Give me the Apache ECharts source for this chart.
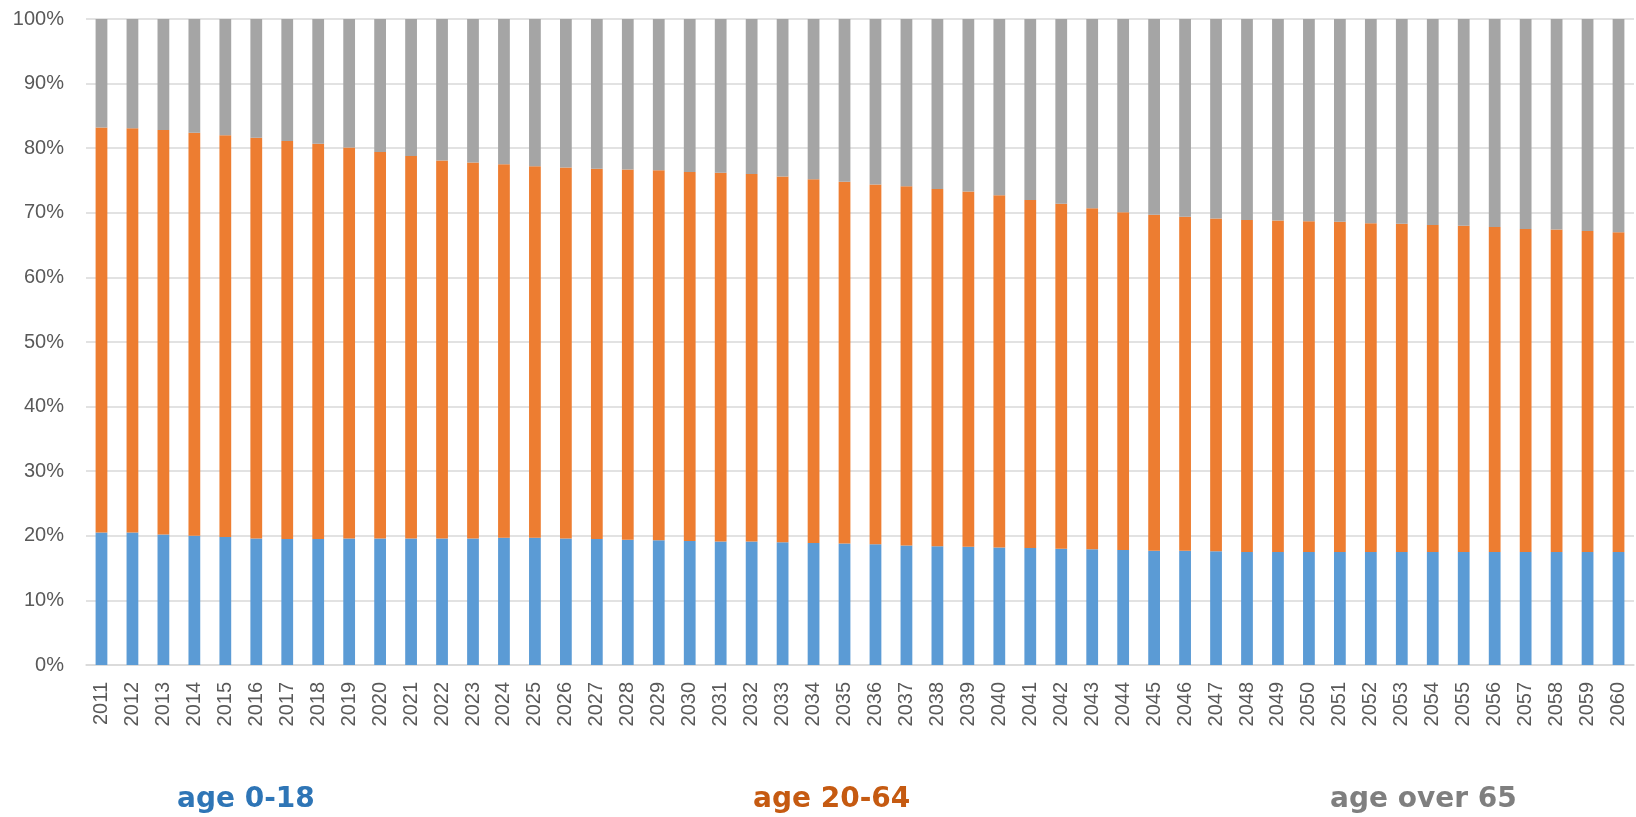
<!DOCTYPE html>
<html>
<head>
<meta charset="utf-8">
<script src="https://cdn.jsdelivr.net/npm/echarts@6/dist/echarts.min.js"></script>
<style>
html, body { margin: 0; padding: 0; background: #fff; }
#chart-container { width: 1636px; height: 817px; }
</style>
</head>
<body>
<div id="chart-container"></div>
<script>
var years = [];
for (var y = 2011; y <= 2060; y++) years.push(String(y));

// shares in %
var young = [20.5, 20.5, 20.2, 20.0, 19.8, 19.6, 19.5, 19.5, 19.6, 19.6, 19.6, 19.6, 19.6, 19.7, 19.7,
    19.6, 19.5, 19.4, 19.3, 19.2, 19.1, 19.1, 19.0, 18.9, 18.8, 18.7, 18.5, 18.4, 18.3, 18.2, 18.1, 18.0, 17.9,
    17.8, 17.7, 17.7, 17.6, 17.5, 17.5, 17.5, 17.5, 17.5, 17.5, 17.5, 17.5, 17.5, 17.5, 17.5, 17.5, 17.5];
var working = [62.7, 62.6, 62.6, 62.4, 62.2, 62.0, 61.6, 61.2, 60.5, 59.8, 59.2, 58.5, 58.2, 57.8, 57.5,
    57.4, 57.3, 57.3, 57.3, 57.1, 57.1, 56.9, 56.6, 56.3, 56.0, 55.7, 55.6, 55.3, 55.0, 54.5, 53.9, 53.4, 52.8,
    52.3, 52.0, 51.7, 51.5, 51.4, 51.3, 51.2, 51.1, 50.9, 50.8, 50.6, 50.5, 50.3, 50.0, 49.9, 49.7, 49.5];
var old = [16.8, 16.9, 17.2, 17.6, 18.0, 18.4, 18.9, 19.3, 19.9, 20.6, 21.2, 21.9, 22.2, 22.5, 22.8,
    23.0, 23.2, 23.3, 23.4, 23.7, 23.8, 24.0, 24.4, 24.8, 25.2, 25.6, 25.9, 26.3, 26.7, 27.3, 28.0, 28.6, 29.3,
    29.9, 30.3, 30.6, 30.9, 31.1, 31.2, 31.3, 31.4, 31.6, 31.7, 31.9, 32.0, 32.2, 32.5, 32.6, 32.8, 33.0];

var names = ['age 0-18', 'age 20-64', 'age over 65'];
var colors = ['#5B9BD5', '#ED7D31', '#A5A5A5'];
var labelColors = ['#2E75B6', '#C55A11', '#7F7F7F'];
var legendLeft = [167, 743, 1320];

var chart = echarts.init(document.getElementById('chart-container'));

function legendFor(i) {
    return {
        data: [names[i]],
        left: legendLeft[i],
        top: 781,
        icon: 'none',
        itemWidth: 0,
        selectedMode: false,
        textStyle: {
            color: labelColors[i],
            fontFamily: 'DejaVu Sans',
            fontWeight: 'bold',
            fontSize: 28
        }
    };
}

function barSeries(i, values) {
    return {
        name: names[i],
        type: 'bar',
        stack: 'total',
        barWidth: '38%',
        itemStyle: { color: colors[i] },
        data: values
    };
}

chart.setOption({
    animation: false,
    grid: { left: 86, right: 2, top: 19, bottom: 152 },
    legend: [legendFor(0), legendFor(1), legendFor(2)],
    xAxis: {
        type: 'category',
        data: years,
        axisTick: { show: false },
        axisLine: { lineStyle: { color: '#D9D9D9', width: 1.5 } },
        axisLabel: {
            rotate: 90,
            margin: 17,
            color: '#595959',
            fontFamily: 'Liberation Sans',
            fontSize: 20
        }
    },
    yAxis: {
        type: 'value',
        min: 0,
        max: 100,
        interval: 10,
        axisLine: { show: false },
        axisTick: { show: false },
        splitLine: { lineStyle: { color: '#D9D9D9', width: 1.5 } },
        axisLabel: {
            formatter: '{value}%',
            margin: 22,
            color: '#595959',
            fontFamily: 'Liberation Sans',
            fontSize: 20
        }
    },
    series: [barSeries(0, young), barSeries(1, working), barSeries(2, old)]
});
</script>
</body>
</html>
